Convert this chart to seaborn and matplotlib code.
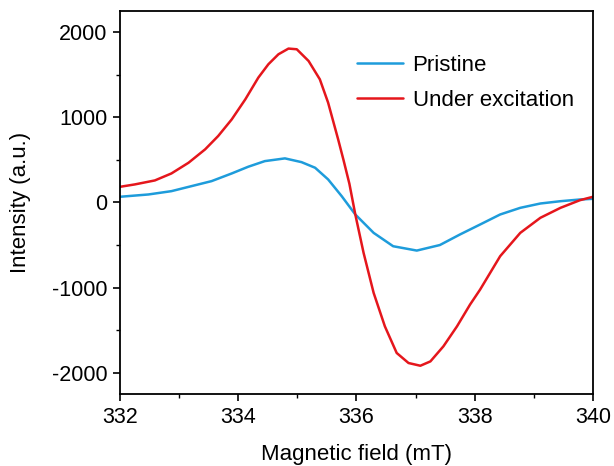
import numpy as np
import pandas as pd
import matplotlib
matplotlib.use("Agg")
import matplotlib.pyplot as plt
from matplotlib.ticker import MultipleLocator
import seaborn as sns

# values
field_pristine = [332.0, 332.48, 332.87, 333.21, 333.55, 333.89, 334.17, 334.45, 334.79,
                  335.07, 335.30, 335.52, 335.75, 335.98, 336.29, 336.62, 337.02, 337.41,
                  337.75, 338.09, 338.43, 338.77, 339.11, 339.45, 339.78, 340.0]
int_pristine = [67, 94, 133, 192, 251, 341, 420, 486, 518,
                474, 408, 271, 74, -141, -357, -514, -565, -500,
                -376, -259, -141, -63, -12, 15, 35, 43]

field_excited = [332.0, 332.25, 332.59, 332.87, 333.16, 333.44, 333.66, 333.89, 334.12,
                 334.34, 334.51, 334.68, 334.85, 334.99, 335.19, 335.38, 335.52, 335.69,
                 335.78, 335.88, 335.98, 336.12, 336.29, 336.48, 336.68, 336.88, 337.08,
                 337.25, 337.47, 337.70, 337.92, 338.09, 338.43, 338.77, 339.11, 339.45,
                 339.78, 340.0]
int_excited = [184, 212, 259, 341, 467, 624, 780, 976, 1212,
               1467, 1624, 1741, 1808, 1800, 1662, 1447, 1173, 741,
               500, 220, -141, -592, -1062, -1455, -1768, -1886, -1918,
               -1867, -1690, -1455, -1200, -1024, -631, -357, -180, -63,
               27, 67]

df = pd.concat([
    pd.DataFrame({"field": field_pristine, "intensity": int_pristine, "sample": "Pristine"}),
    pd.DataFrame({"field": field_excited, "intensity": int_excited, "sample": "Under excitation"}),
])

sns.set_style("ticks")
plt.rcParams["font.family"] = ["Liberation Sans", "DejaVu Sans"]
plt.rcParams["axes.unicode_minus"] = False
plt.rcParams["text.color"] = "black"
plt.rcParams["axes.labelcolor"] = "black"

fig = plt.figure(figsize=(6.14, 4.66), dpi=100)
ax = fig.add_axes([0.1954, 0.1545, 0.7704, 0.822])

sns.lineplot(data=df, x="field", y="intensity", hue="sample",
             palette={"Pristine": "#1E9CDB", "Under excitation": "#E5161C"},
             linewidth=1.8, ax=ax)
for ln in ax.lines:
    ln.set_solid_joinstyle("round")

ax.set_xlim(332, 340)
ax.set_ylim(-2250, 2250)
ax.set_xticks([332, 334, 336, 338, 340])
ax.set_yticks([-2000, -1000, 0, 1000, 2000])
ax.xaxis.set_minor_locator(MultipleLocator(1))
ax.yaxis.set_minor_locator(MultipleLocator(500))
ax.tick_params(which="major", direction="out", length=5, width=1.2, labelsize=15.5,
               colors="black", pad=4)
ax.tick_params(which="minor", direction="out", length=3, width=1.0, colors="black")
for s in ax.spines.values():
    s.set_linewidth(1.3)
    s.set_color("black")

ax.set_xlabel("Magnetic field (mT)", fontsize=16, labelpad=12)
ax.set_ylabel("Intensity (a.u.)", fontsize=16, labelpad=15)

leg = ax.legend(frameon=False, fontsize=16, loc="upper left",
                bbox_to_anchor=(0.501, 0.886), borderaxespad=0, borderpad=0,
                handlelength=2.05, handletextpad=0.45, labelspacing=0.65)
for h in leg.get_lines():
    h.set_linewidth(1.8)

fig.savefig("out.png", dpi=100)
